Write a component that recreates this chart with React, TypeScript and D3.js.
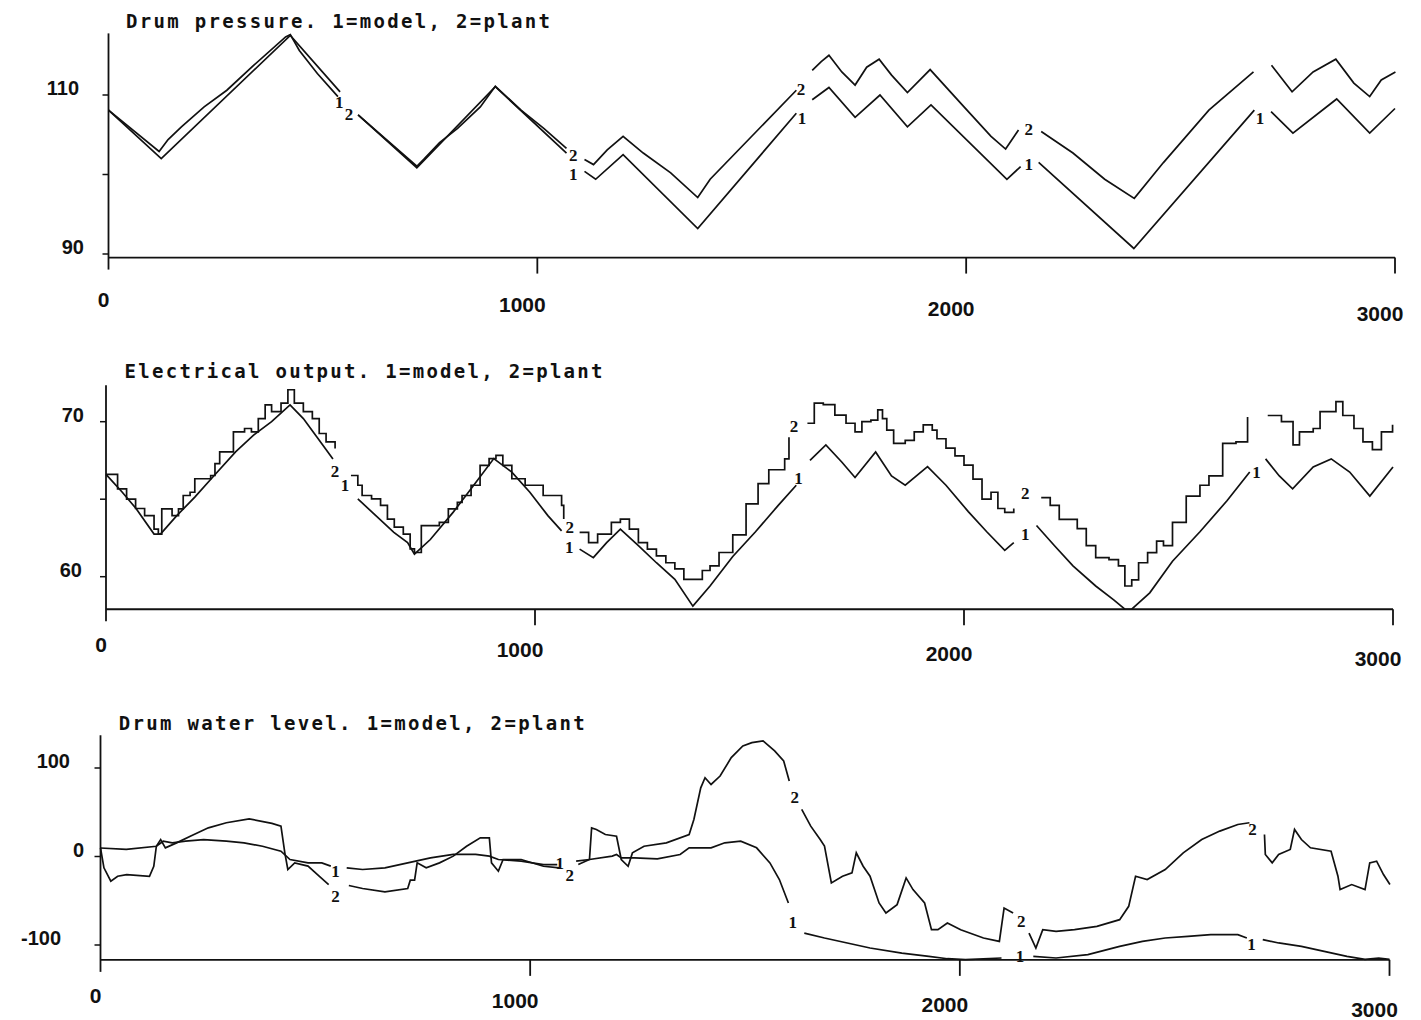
import React from 'react';
import * as d3 from 'd3';

type Pt = [number, number];
type Seg = Pt[];
type Label = [number, number, string];

// time axis, shared by the three panels
const xTicks = [0, 1000, 2000, 3000];

// ---- Drum pressure ----
const pressureModel: Seg[] = [
  [[0, 108.1], [123, 102.0], [424, 117.5], [540, 110.4]],
  [[582, 107.5], [719, 100.85], [902, 111.05], [1068, 102.7]],
  [[1110, 100.4], [1136, 99.4], [1200, 102.5], [1374, 93.2], [1604, 107.7]],
  [[1641, 109.4], [1680, 110.95], [1741, 107.2], [1799, 110.0], [1863, 106.0], [1918, 108.75], [2095, 99.4], [2127, 101.0]],
  [[2169, 101.54], [2391, 90.7], [2672, 108.1]],
  [[2711, 107.9], [2762, 105.2], [2864, 109.5], [2941, 105.2], [3000, 108.3]],
];
const pressurePlant: Seg[] = [
  [[0, 108.1], [118, 102.9], [139, 104.4], [170, 106.0], [223, 108.5], [276, 110.6], [339, 113.75], [413, 117.3], [424, 117.6], [445, 115.6], [487, 112.7], [535, 109.8]],
  [[582, 107.5], [719, 101.04], [735, 101.9], [772, 104.0], [814, 105.8], [867, 108.5], [902, 111.1], [962, 108.1], [1015, 105.8], [1068, 103.3]],
  [[1110, 101.9], [1131, 101.25], [1163, 103.1], [1200, 104.8], [1247, 102.7], [1311, 100.2], [1374, 97.1], [1403, 99.4], [1604, 110.6]],
  [[1641, 113.1], [1662, 114.2], [1680, 115.0], [1710, 112.9], [1741, 111.25], [1768, 113.5], [1797, 114.5], [1826, 112.5], [1863, 110.3], [1916, 113.2], [1995, 108.5], [2058, 104.8], [2092, 103.2], [2122, 105.6]],
  [[2175, 105.4], [2249, 102.7], [2323, 99.4], [2392, 97.0], [2460, 101.5], [2566, 108.1], [2670, 112.9]],
  [[2712, 113.75], [2760, 110.4], [2809, 112.9], [2862, 114.5], [2904, 111.5], [2941, 109.8], [2968, 111.9], [3001, 112.9]],
];
const pressureLabels: Label[] = [
  [538, 109.0, '1'], [561, 107.6, '2'],
  [1084, 102.4, '2'], [1084, 100.0, '1'],
  [1615, 110.7, '2'], [1617, 107.1, '1'],
  [2146, 105.7, '2'], [2146, 101.2, '1'],
  [2685, 107.1, '1'],
];
const pressureTicks = [90, 100, 110];
const pressureTickText = ['90', '', '110'];

// ---- Electrical output ----
const powerModel: Seg[] = [
  [[0, 66.6], [38, 65.45], [70, 64.4], [112, 62.75], [127, 62.75], [165, 63.94], [207, 65.13], [249, 66.43], [302, 68.05], [344, 69.13], [386, 70.0], [429, 71.08], [460, 70.2], [492, 69.0], [529, 67.6]],
  [[587, 65.02], [629, 63.94], [671, 62.86], [703, 62.2], [719, 61.45], [756, 62.4], [809, 64.15], [851, 65.67], [904, 67.62], [946, 66.75], [988, 65.45], [1030, 63.94], [1062, 62.96]],
  [[1104, 61.78], [1136, 61.23], [1167, 62.2], [1199, 63.07], [1241, 62.0], [1283, 60.9], [1326, 59.83], [1368, 58.1], [1408, 59.4], [1461, 61.3], [1514, 62.9], [1567, 64.6], [1609, 65.9]],
  [[1641, 67.5], [1678, 68.5], [1715, 67.4], [1746, 66.4], [1794, 68.05], [1831, 66.5], [1863, 65.9], [1915, 67.1], [1958, 65.9], [2010, 64.2], [2053, 62.9], [2095, 61.7], [2116, 62.2]],
  [[2169, 63.3], [2211, 62.0], [2254, 60.7], [2307, 59.4], [2349, 58.5], [2375, 57.9], [2391, 57.9], [2433, 58.96], [2486, 61.0], [2550, 62.9], [2613, 64.9], [2666, 66.75]],
  [[2703, 67.6], [2735, 66.5], [2766, 65.67], [2814, 67.08], [2856, 67.6], [2899, 66.75], [2946, 65.2], [3000, 67.08]],
];
const powerPlant: Seg[] = [
  [[0, 66.6], [27, 65.67], [48, 65.0], [69, 64.4], [90, 63.94], [112, 63.07], [122, 62.75], [130, 64.37], [154, 63.94], [169, 64.37], [180, 65.24], [196, 65.45], [207, 66.32], [244, 66.53], [254, 67.3], [265, 68.05], [297, 69.35], [323, 69.56], [339, 69.35], [355, 70.2], [371, 71.08], [386, 70.65], [408, 71.2], [424, 72.06], [439, 71.2], [460, 70.65], [481, 70.2], [497, 69.24], [513, 68.7], [534, 68.27]],
  [[571, 66.53], [587, 65.9], [597, 65.24], [619, 65.02], [640, 64.6], [656, 63.72], [672, 63.2], [693, 62.75], [709, 61.8], [719, 61.56], [735, 63.3], [777, 63.5], [798, 64.37], [819, 64.8], [830, 65.24], [851, 65.9], [872, 67.18], [893, 67.62], [909, 67.83], [925, 67.18], [946, 66.32], [977, 65.9], [1019, 65.24], [1062, 64.6], [1067, 63.72]],
  [[1104, 62.86], [1125, 62.2], [1146, 62.75], [1178, 63.5], [1199, 63.72], [1220, 63.07], [1241, 62.2], [1262, 61.78], [1283, 61.34], [1305, 60.9], [1326, 60.5], [1347, 59.83], [1368, 59.83], [1390, 60.4], [1408, 60.7], [1429, 61.56], [1461, 62.7], [1492, 64.7], [1520, 66.0], [1545, 66.9], [1582, 67.6], [1592, 69.0]],
  [[1635, 69.9], [1651, 71.2], [1672, 71.1], [1699, 70.43], [1725, 69.9], [1746, 69.35], [1762, 70.0], [1783, 70.1], [1799, 70.76], [1810, 70.2], [1820, 69.46], [1836, 68.6], [1863, 68.8], [1884, 69.35], [1905, 69.8], [1926, 69.46], [1937, 68.9], [1958, 68.3], [1979, 67.8], [2000, 67.2], [2021, 66.3], [2042, 65.0], [2063, 65.45], [2079, 64.4], [2095, 64.15], [2116, 64.4]],
  [[2180, 65.1], [2201, 64.6], [2222, 63.7], [2264, 63.1], [2285, 62.0], [2307, 61.23], [2338, 61.1], [2360, 60.7], [2375, 59.4], [2391, 59.8], [2407, 60.9], [2428, 61.55], [2449, 62.3], [2465, 62.0], [2486, 63.5], [2518, 65.2], [2550, 65.9], [2571, 66.5], [2603, 68.6], [2634, 68.7], [2661, 70.3]],
  [[2708, 70.4], [2740, 70.0], [2767, 68.5], [2782, 69.35], [2814, 69.56], [2830, 70.65], [2856, 70.65], [2867, 71.3], [2883, 70.4], [2909, 69.56], [2930, 68.7], [2952, 68.2], [2973, 69.35], [2999, 69.8]],
];
const powerLabels: Label[] = [
  [534, 66.8, '2'], [557, 65.9, '1'],
  [1081, 63.2, '2'], [1080, 61.9, '1'],
  [1604, 69.7, '2'], [1614, 66.32, '1'],
  [2143, 65.35, '2'], [2143, 62.75, '1'],
  [2682, 66.75, '1'],
];
const powerTicks = [60, 65, 70];
const powerTickText = ['60', '', '70'];

// ---- Drum water level ----
const levelModel: Seg[] = [
  [[0, 9.6], [60, 8], [130, 11.6], [146, 17.3], [167, 15.4], [198, 17.3], [240, 19.1], [293, 17.3], [334, 15.4], [377, 11.6], [420, 6.0], [441, -3.4], [483, -7.2], [515, -7.2], [536, -10.9]],
  [[573, -12.8], [610, -14.7], [662, -12.8], [715, -7.2], [768, -1.5], [821, 2.3], [873, 2.3], [905, 0.4], [926, -3.4], [979, -5.3], [1031, -9.1], [1063, -9.1]],
  [[1107, -5.3], [1138, -3.4], [1191, 0.4], [1201, 2.3], [1212, -1.5], [1243, -1.5], [1296, -2.6], [1349, 2.3], [1370, 9.8], [1421, 9.8], [1453, 15.5], [1490, 17.4], [1527, 9.8], [1558, -7.2], [1580, -26.0], [1601, -52.5]],
  [[1638, -86.5], [1685, -92.1], [1738, -97.7], [1791, -103.4], [1865, -109.1], [1928, -112.8], [1971, -115.5], [2013, -116.5], [2097, -114.7]],
  [[2171, -112.8], [2224, -114.7], [2298, -110.9], [2372, -101.5], [2425, -95.9], [2478, -92.1], [2531, -90.2], [2584, -88.3], [2647, -88.3], [2668, -92.1]],
  [[2705, -94.0], [2742, -97.7], [2795, -101.5], [2848, -107.2], [2901, -112.8], [2943, -116.3], [2975, -114.7], [3000, -116.3]],
];
const levelPlant: Seg[] = [
  [[0, 9.8], [8, -12.8], [24, -27.9], [40, -22.3], [61, -20.4], [114, -22.3], [124, -11.0], [130, 11.6], [140, 19.1], [151, 9.8], [177, 15.4], [209, 23.0], [251, 32.4], [293, 38.1], [346, 42.6], [399, 37.4], [420, 34.3], [429, 4.1], [436, -14.7], [452, -7.2], [483, -10.9], [505, -20.4], [531, -31.7]],
  [[578, -32.8], [610, -36.2], [662, -40.0], [715, -36.2], [721, -26.8], [731, -26.8], [737, -7.2], [758, -12.8], [789, -7.2], [821, 0.4], [852, 11.6], [884, 21.1], [905, 21.1], [910, -7.2], [926, -16.6], [937, -3.4], [979, -3.4], [1031, -11.0], [1068, -12.8]],
  [[1112, -9.1], [1138, -3.4], [1143, 32.4], [1154, 30.5], [1175, 24.8], [1201, 22.9], [1212, -3.4], [1228, -11.0], [1238, 4.1], [1265, 11.6], [1317, 15.4], [1370, 24.8], [1381, 41.8], [1397, 77.6], [1407, 89.0], [1421, 81.4], [1442, 90.9], [1468, 111.7], [1495, 124.9], [1516, 128.7], [1542, 130.6], [1569, 119.3], [1590, 108.0], [1603, 85.3]],
  [[1632, 53.2], [1653, 34.3], [1675, 19.2], [1685, 11.7], [1701, -29.8], [1727, -22.3], [1749, -18.5], [1759, 4.1], [1775, -11.0], [1791, -22.3], [1812, -52.5], [1828, -63.9], [1854, -54.4], [1875, -24.2], [1891, -37.4], [1918, -52.5], [1934, -82.7], [1949, -82.7], [1971, -75.1], [2002, -82.7], [2055, -92.1], [2092, -95.9], [2103, -58.2], [2124, -63.9]],
  [[2161, -86.5], [2177, -103.4], [2193, -82.7], [2224, -84.6], [2267, -82.7], [2319, -78.9], [2372, -71.4], [2393, -56.3], [2409, -22.3], [2436, -26.0], [2478, -14.7], [2520, 4.1], [2563, 19.2], [2605, 28.7], [2647, 36.2], [2674, 38.1]],
  [[2709, 24.9], [2711, 2.3], [2727, -7.2], [2742, 2.3], [2769, 7.9], [2779, 30.6], [2795, 19.2], [2816, 9.8], [2864, 6.0], [2880, -22.3], [2885, -37.4], [2912, -31.7], [2943, -37.4], [2954, -7.2], [2970, -5.3], [2986, -20.4], [3001, -31.7]],
];
const levelLabels: Label[] = [
  [547, -16.6, '1'], [547, -44.9, '2'],
  [1069, -7.5, '1'], [1092, -22.0, '2'],
  [1616, 66.4, '2'], [1611, -74.3, '1'],
  [2143, -73.2, '2'], [2140, -112.8, '1'],
  [2681, 30.6, '2'], [2679, -99.6, '1'],
];
const levelTicks = [-100, 0, 100];
const levelTickText = ['-100', '0', '100'];

const panels = [
  {
    title: 'Drum pressure. 1=model, 2=plant', titleX: 126, titleY: 28, titleW: 424,
    model: pressureModel, plant: pressurePlant, plantCurve: d3.curveLinear, labels: pressureLabels,
    ticks: pressureTicks, tickText: pressureTickText, tickTextEnd: [84, 0, 79],
    yDomain: [90, 110], yRange: [254, 95], yBottom: 89.55, yTop: 117.75,
    xRange: [108.5, 1395], xLabelY: 307,
  },
  {
    title: 'Electrical output. 1=model, 2=plant', titleX: 124.5, titleY: 378, titleW: 478,
    model: powerModel, plant: powerPlant, plantCurve: d3.curveStepAfter, labels: powerLabels,
    ticks: powerTicks, tickText: powerTickText, tickTextEnd: [82, 0, 84],
    yDomain: [60, 70], yRange: [576.7, 421.7], yBottom: 57.9, yTop: 72.35,
    xRange: [106, 1393], xLabelY: 652,
  },
  {
    title: 'Drum water level. 1=model, 2=plant', titleX: 118.7, titleY: 730, titleW: 466,
    model: levelModel, plant: levelPlant, plantCurve: d3.curveLinear, labels: levelLabels,
    ticks: levelTicks, tickText: levelTickText, tickTextEnd: [61, 84, 70],
    yDomain: [-100, 100], yRange: [945, 768], yBottom: -116.8, yTop: 137,
    xRange: [100.5, 1389.5], xLabelY: 1003,
  },
];

const INK = '#111';

function Panel({ p }: { p: any }) {
  const x = d3.scaleLinear().domain([0, 3000]).range(p.xRange);
  const y = d3.scaleLinear().domain(p.yDomain).range(p.yRange);
  const modelLine = d3.line<Pt>().x(d => x(d[0])).y(d => y(d[1]));
  const plantLine = d3.line<Pt>().x(d => x(d[0])).y(d => y(d[1])).curve(p.plantCurve);

  const x0 = x(0);
  const yb = y(p.yBottom);
  const yt = y(p.yTop);

  return (
    <g>
      <text x={p.titleX} y={p.titleY} textLength={p.titleW} lengthAdjust="spacing"
        fontFamily="DejaVu Sans Mono" fontWeight="bold" fontSize={19} fill={INK}>{p.title}</text>

      {/* axes */}
      <line x1={x0} x2={x0} y1={yt} y2={yb + 12} stroke={INK} strokeWidth={1.8} />
      <line x1={x0} x2={x(3000)} y1={yb} y2={yb} stroke={INK} strokeWidth={1.8} />
      {p.ticks.map((t: number, i: number) => (
        <g key={'yt' + t}>
          <line x1={x0 - 6} x2={x0} y1={y(t)} y2={y(t)} stroke={INK} strokeWidth={1.5} />
          {p.tickText[i] && (
            <text x={p.tickTextEnd[i]} y={y(t)} textAnchor="end"
              fontFamily="Liberation Sans, Arial, sans-serif" fontWeight="bold" fontSize={20} fill={INK}>{p.tickText[i]}</text>
          )}
        </g>
      ))}
      {xTicks.map((t, i) => (
        <g key={'xt' + t}>
          {t > 0 && <line x1={x(t)} x2={x(t)} y1={yb} y2={yb + 16} stroke={INK} strokeWidth={1.8} />}
          <text x={x(t) + (t === 0 ? -5 : -15)} y={p.xLabelY + i * 4.5} textAnchor="middle"
            fontFamily="Liberation Sans, Arial, sans-serif" fontWeight="bold" fontSize={21} fill={INK}>{t}</text>
        </g>
      ))}

      {/* curves */}
      {p.model.map((seg: Seg, i: number) => (
        <path key={'m' + i} d={modelLine(seg) || ''} fill="none" stroke={INK} strokeWidth={1.7} />
      ))}
      {p.plant.map((seg: Seg, i: number) => (
        <path key={'p' + i} d={plantLine(seg) || ''} fill="none" stroke={INK} strokeWidth={1.7} />
      ))}
      {p.labels.map(([lx, lv, s]: Label, i: number) => (
        <text key={'l' + i} x={x(lx)} y={y(lv)} textAnchor="middle" dominantBaseline="central"
          fontFamily="Liberation Serif, serif" fontWeight="bold" fontSize={17} fill={INK}>{s}</text>
      ))}
    </g>
  );
}

export default function App() {
  return (
    <svg width={1421} height={1020} style={{ position: 'absolute', left: 0, top: 0, background: '#fff' }}>
      <rect width={1421} height={1020} fill="#fff" />
      {panels.map((p, i) => <Panel key={i} p={p} />)}
    </svg>
  );
}
